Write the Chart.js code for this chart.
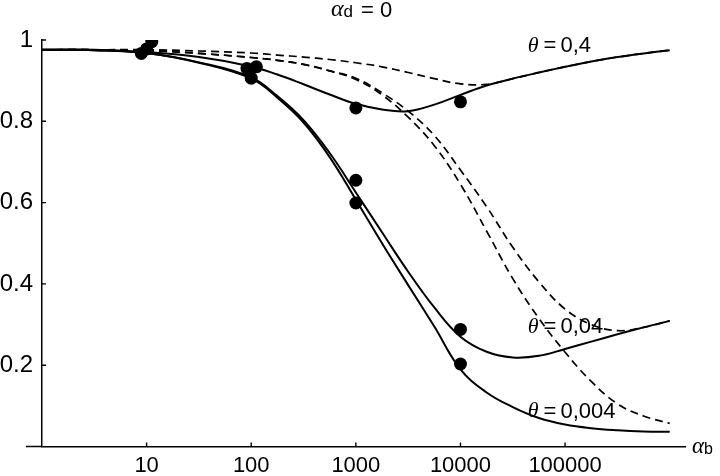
<!DOCTYPE html>
<html>
<head>
<meta charset="utf-8">
<script src="https://cdn.jsdelivr.net/npm/chart.js@4.4.0/dist/chart.umd.min.js"></script>
<style>
  html, body { margin: 0; padding: 0; background: #fff; }
</style>
</head>
<body>
<canvas id="myChart" width="720" height="476"></canvas>
<script>
// alpha_b sample points (log spaced)
const alphaB = [1, 3.162, 10, 31.62, 100, 177.8, 316.2, 562.3, 1000, 1778, 3162, 5623,
                10000, 17783, 31623, 56234, 100000, 177828, 316228, 562341, 1000000];

// model curves, solid
const solid04   = [0.976, 0.976, 0.970, 0.958, 0.935, 0.915, 0.891, 0.866, 0.843, 0.829, 0.825, 0.841,
                   0.865, 0.888, 0.905, 0.920, 0.934, 0.947, 0.958, 0.967, 0.975];
const solid004  = [0.976, 0.975, 0.968, 0.945, 0.908, 0.862, 0.803, 0.722, 0.625, 0.527, 0.430, 0.342,
                   0.270, 0.233, 0.219, 0.223, 0.240, 0.258, 0.276, 0.293, 0.309];
const solid0004 = [0.976, 0.975, 0.968, 0.944, 0.905, 0.858, 0.797, 0.712, 0.607, 0.500, 0.397, 0.295,
                   0.190, 0.133, 0.097, 0.070, 0.054, 0.045, 0.040, 0.037, 0.036];

// model curves, dashed
const dash04   = [0.976, 0.976, 0.976, 0.973, 0.968, 0.963, 0.958, 0.952, 0.944, 0.934, 0.920, 0.905,
                  0.892, 0.891, 0.905, 0.920, 0.934, 0.947, 0.958, 0.967, 0.975];
const dash004  = [0.976, 0.976, 0.974, 0.967, 0.957, 0.950, 0.940, 0.924, 0.906, 0.870, 0.825, 0.765,
                  0.680, 0.590, 0.490, 0.405, 0.338, 0.300, 0.285, 0.293, 0.309];
const dash0004 = [0.976, 0.976, 0.974, 0.967, 0.957, 0.950, 0.940, 0.924, 0.903, 0.865, 0.810, 0.740,
                  0.645, 0.530, 0.413, 0.315, 0.232, 0.160, 0.105, 0.075, 0.057];

// measured points
const obsX = [8.9, 10, 11.2, 91, 100, 112, 1000, 1000, 1000, 10000, 10000, 10000];
const obsY = [0.967, 0.978, 0.996, 0.930, 0.906, 0.934, 0.833, 0.655, 0.599, 0.848, 0.288, 0.203];

const xTicks = [10, 100, 1000, 10000, 100000];
const yTicks = [0.2, 0.4, 0.6, 0.8, 1];

const curveLabels = [
    { value: '0,4',   y: 0.985 },
    { value: '0,04',  y: 0.293 },
    { value: '0,004', y: 0.086 }
];
const labelX = 44000;

const SANS = '"Liberation Sans", Arial, sans-serif';
const SERIF = '"Liberation Serif", "Times New Roman", serif';

function toPoints(ys) {
    return ys.map((v, i) => ({ x: alphaB[i], y: v }));
}

function lineSet(ys, dashed) {
    return {
        type: 'line',
        data: toPoints(ys),
        borderColor: '#000',
        borderWidth: dashed ? 1.7 : 2,
        borderDash: dashed ? [8, 5] : [],
        pointRadius: 0,
        fill: false,
        tension: 0.4,
    };
}

const decorations = {
    id: 'decorations',
    afterDraw(chart) {
        const { ctx, scales: { x, y } } = chart;
        const x0 = x.getPixelForValue(1);
        const y0 = y.getPixelForValue(0);
        ctx.save();
        ctx.strokeStyle = '#000';
        // x axis line runs a little past the y axis on the left
        ctx.lineWidth = 1.5;
        ctx.beginPath();
        ctx.moveTo(x0 - 16, y0);
        ctx.lineTo(x0, y0);
        ctx.stroke();
        // inward tick marks
        ctx.lineWidth = 1.4;
        ctx.beginPath();
        x.ticks.forEach(t => {
            const px = x.getPixelForValue(t.value);
            ctx.moveTo(px, y0);
            ctx.lineTo(px, y0 - 4);
        });
        y.ticks.forEach(t => {
            const py = y.getPixelForValue(t.value);
            ctx.moveTo(x0, py);
            ctx.lineTo(x0 + 4, py);
        });
        ctx.stroke();

        ctx.fillStyle = '#000';
        ctx.textBaseline = 'middle';
        ctx.textAlign = 'left';

        // theta labels
        curveLabels.forEach(l => {
            let px = x.getPixelForValue(labelX);
            const py = y.getPixelForValue(l.y);
            ctx.font = 'italic 22px ' + SERIF;
            ctx.fillText('θ', px, py);
            px += ctx.measureText('θ').width + 5;
            ctx.font = '22px ' + SANS;
            ctx.fillText('=', px, py);
            px += ctx.measureText('=').width + 4;
            ctx.fillText(l.value, px, py);
        });

        // title: alpha_d = 0
        ctx.font = 'italic 24px ' + SERIF;
        let tx = 331;
        ctx.fillText('α', tx, 10);
        tx += ctx.measureText('α').width;
        ctx.font = '17px ' + SANS;
        ctx.fillText('d', tx, 12);
        tx += ctx.measureText('d').width + 8;
        ctx.font = '22px ' + SANS;
        ctx.fillText('= 0', tx, 11);

        // x axis label: alpha_b
        ctx.font = 'italic 23px ' + SERIF;
        ctx.fillText('α', 692, 447);
        const aw = ctx.measureText('α').width;
        ctx.font = '16px ' + SANS;
        ctx.fillText('b', 692 + aw, 450);
        ctx.restore();
    }
};

const ctx = document.getElementById('myChart').getContext('2d');
new Chart(ctx, {
    data: {
        datasets: [
            lineSet(solid04, false),
            lineSet(solid004, false),
            lineSet(solid0004, false),
            lineSet(dash04, true),
            lineSet(dash004, true),
            lineSet(dash0004, true),
            {
                type: 'scatter',
                data: obsX.map((v, i) => ({ x: v, y: obsY[i] })),
                backgroundColor: '#000',
                borderColor: '#000',
                pointRadius: 6.5,
                pointBorderWidth: 0,
            }
        ]
    },
    options: {
        responsive: false,
        animation: false,
        layout: { padding: { left: 0, right: 35, top: 40, bottom: 29.5 } },
        plugins: {
            legend: { display: false },
            tooltip: { enabled: false },
        },
        scales: {
            x: {
                type: 'logarithmic',
                min: 1,
                max: 1400000,
                position: { y: 0 },
                afterBuildTicks: (scale) => { scale.ticks = xTicks.map(v => ({ value: v })); },
                ticks: {
                    color: '#000',
                    font: { family: SANS, size: 22 },
                    padding: 6,
                    maxRotation: 0,
                    autoSkip: false,
                    callback: (v) => String(v),
                },
                grid: { display: true, drawOnChartArea: false, drawTicks: false },
                border: { display: true, color: '#000', width: 1.5 },
            },
            y: {
                type: 'linear',
                min: 0,
                max: 1,
                position: 'left',
                afterFit: (scale) => { scale.width = 42; },
                afterBuildTicks: (scale) => { scale.ticks = yTicks.map(v => ({ value: v })); },
                ticks: {
                    color: '#000',
                    font: { family: SANS, size: 24 },
                    padding: 9,
                    callback: (v) => (v === 1 ? '1' : v.toFixed(1)),
                },
                grid: { display: true, drawOnChartArea: false, drawTicks: false },
                border: { display: true, color: '#000', width: 1.5 },
            }
        }
    },
    plugins: [decorations]
});
</script>
</body>
</html>
